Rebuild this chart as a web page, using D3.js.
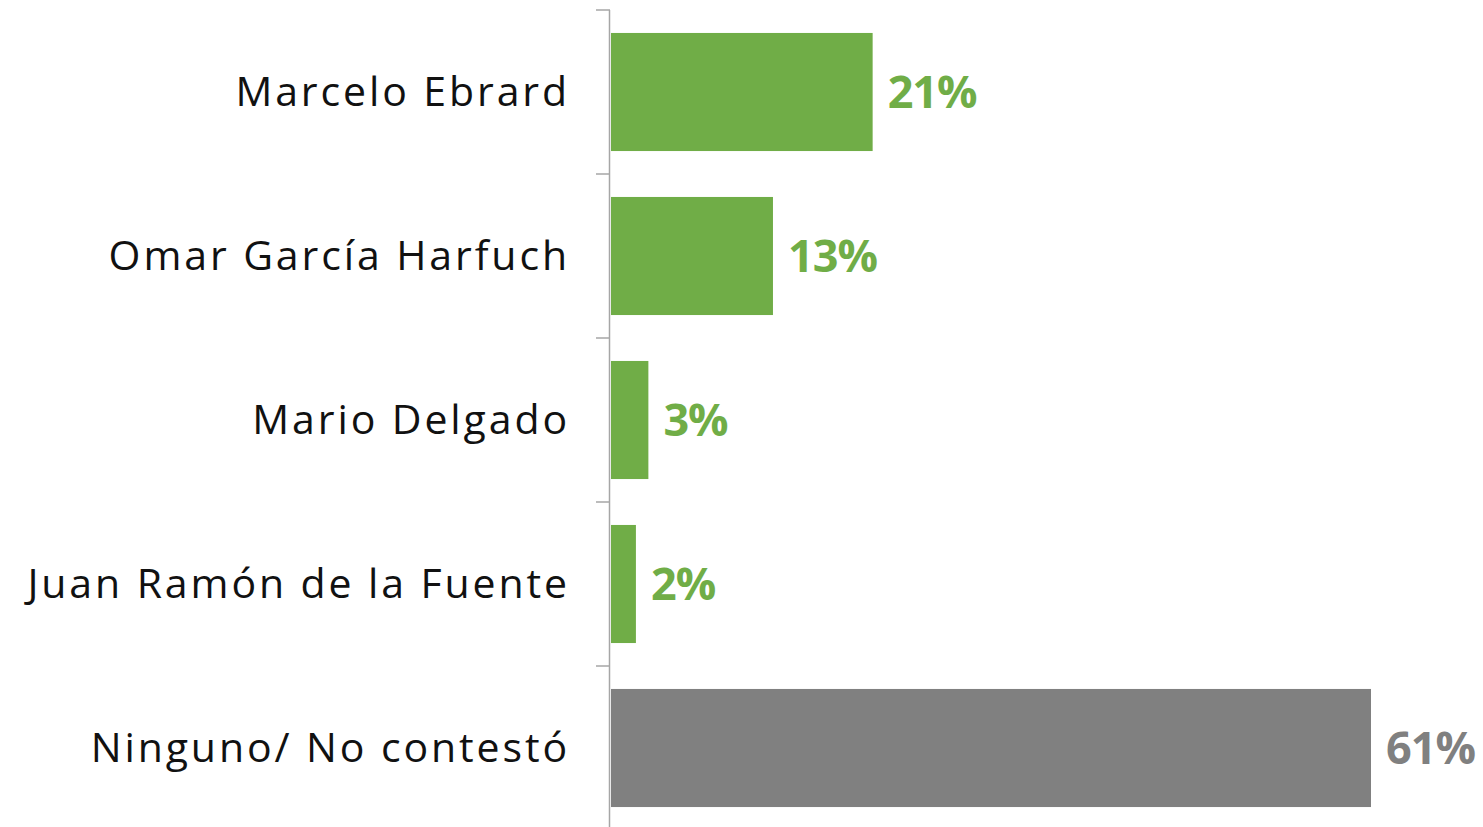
<!DOCTYPE html>
<html>
<head>
<meta charset="utf-8">
<script src="https://cdn.jsdelivr.net/npm/d3@7"></script>
<style>
  body { margin: 0; background: #fff; }
</style>
</head>
<body>
<svg width="1483" height="827"></svg>
<script>
// survey results
var names = ["Marcelo Ebrard", "Omar García Harfuch", "Mario Delgado", "Juan Ramón de la Fuente", "Ninguno/ No contestó"];
var values = [21, 13, 3, 2, 61];
var colors = ["#70ad47", "#70ad47", "#70ad47", "#70ad47", "#808080"];

var svg = d3.select("svg"),
    margin = {top: 10, right: 0, bottom: 0, left: 610},
    g = svg.append("g").attr("transform", "translate(" + margin.left + "," + margin.top + ")");

var x = d3.scaleLinear()
    .domain([0, 61])
    .range([0, 760]);

var y = d3.scaleBand()
    .domain(names)
    .range([0, 820])
    .paddingInner(0.28)
    .paddingOuter(0.14);

// y axis: line + ticks between categories
var tickPos = names.map(function(d, i) { return i * 164; });

g.append("line")
    .attr("x1", -0.5).attr("x2", -0.5)
    .attr("y1", 0).attr("y2", 820)
    .attr("stroke", "#a6a6a6")
    .attr("stroke-width", 1.5);

g.selectAll(".tick")
    .data(tickPos)
  .enter().append("line")
    .attr("x1", -14).attr("x2", 0)
    .attr("y1", function(d) { return d; })
    .attr("y2", function(d) { return d; })
    .attr("stroke", "#a6a6a6")
    .attr("stroke-width", 1.5);

g.selectAll(".bar")
    .data(values)
  .enter().append("rect")
    .attr("x", 1)
    .attr("y", function(d, i) { return y(names[i]); })
    .attr("width", function(d) { return x(d); })
    .attr("height", y.bandwidth())
    .attr("fill", function(d, i) { return colors[i]; });

g.selectAll(".name")
    .data(names)
  .enter().append("text")
    .attr("x", -40)
    .attr("y", function(d) { return y(d) + y.bandwidth() / 2; })
    .attr("dy", "0.35em")
    .attr("text-anchor", "end")
    .attr("font-family", "Open Sans, sans-serif")
    .attr("font-size", 41)
    .attr("letter-spacing", 2.9)
    .attr("fill", "#111")
    .text(function(d) { return d; });

g.selectAll(".val")
    .data(values)
  .enter().append("text")
    .attr("x", function(d) { return x(d) + 16; })
    .attr("y", function(d, i) { return y(names[i]) + y.bandwidth() / 2; })
    .attr("dy", "0.36em")
    .attr("font-family", "Open Sans, sans-serif")
    .attr("font-weight", "bold")
    .attr("font-size", 45)
    .attr("letter-spacing", -1)
    .attr("fill", function(d, i) { return colors[i]; })
    .text(function(d) { return d + "%"; });
</script>
</body>
</html>
